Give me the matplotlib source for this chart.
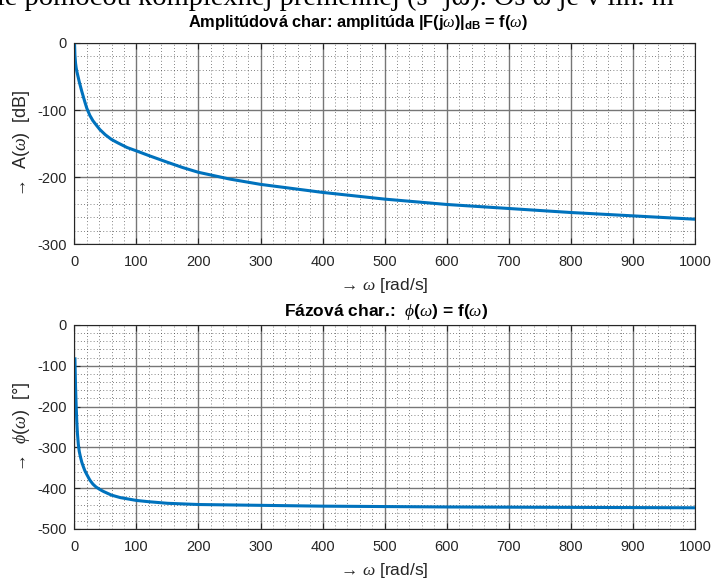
import matplotlib
matplotlib.use("Agg")
import matplotlib.pyplot as plt
from matplotlib.ticker import MultipleLocator

# ---- data ----
w_amp = [0.3, 1, 2, 3, 4, 5, 6.5, 8, 10, 12, 14.5, 17, 20, 25, 30, 35, 41, 50, 60,
         70, 85, 100, 120, 150, 175, 200, 250, 300, 350, 400, 450, 500, 600, 700,
         800, 900, 1000]
amp_db = [2, -18, -30, -37, -42, -46, -52, -58, -65, -72, -80, -88, -97, -108, -116,
          -122, -129, -137, -144, -149, -156, -161, -168, -178, -186, -193, -203,
          -211, -217, -223, -228, -233, -241, -247, -253, -258, -263]

w_ph = [1, 2, 3, 4, 5, 6.5, 8, 10, 12, 14.5, 17, 20, 25, 30, 35, 41, 47, 60, 74, 100,
        119, 150, 200, 300, 400, 500, 600, 800, 1000]
phase_deg = [-83, -150, -198, -236, -265, -293, -310, -324, -336, -347, -357, -366,
             -380, -390, -397, -403, -408, -417, -423, -430, -433, -437, -440, -442,
             -444, -445, -446, -447, -448]

x_ticks = [0, 100, 200, 300, 400, 500, 600, 700, 800, 900, 1000]
amp_ticks = [-300, -200, -100, 0]
ph_ticks = [-500, -400, -300, -200, -100, 0]

plt.rcParams['font.family'] = ['Liberation Sans', 'DejaVu Sans']
plt.rcParams['axes.unicode_minus'] = False
plt.rcParams['mathtext.fontset'] = 'custom'
plt.rcParams['mathtext.rm'] = 'Liberation Sans'
plt.rcParams['mathtext.it'] = 'Liberation Serif:italic'
plt.rcParams['mathtext.bf'] = 'Liberation Sans:bold'

LINE = '#0072BD'
TXT = '#262626'
W, H = 714, 581

fig = plt.figure(figsize=(7.14, 5.81), dpi=100)

# partially cut header text from the document
fig.text(-0.004, 1 - 5 / H, "le pomocou komplexnej premennej (s=jω). Os ω je v lin. m",
         family=['Liberation Serif', 'DejaVu Serif'], fontsize=20.5, ha='left',
         va='baseline', color='black')

L, R = 74.3, 695
ax1 = fig.add_axes([L / W, 1 - 244 / H, (R - L) / W, (244 - 43) / H])
ax2 = fig.add_axes([L / W, 1 - 529 / H, (R - L) / W, (529 - 325) / H])


def style(ax, yticks, ylim):
    ax.set_xlim(0, 1000)
    ax.set_ylim(*ylim)
    ax.set_xticks(x_ticks)
    ax.set_yticks(yticks)
    ax.xaxis.set_minor_locator(MultipleLocator(20))
    ax.yaxis.set_minor_locator(MultipleLocator(20))
    ax.grid(True, which='major', color='#767676', lw=1.0, ls='-')
    ax.grid(True, which='minor', color='#3a3a3a', lw=0.55, ls=(0, (1, 3.2)))
    ax.set_axisbelow(True)
    ax.tick_params(which='both', direction='in', colors=TXT, labelsize=10.5,
                   top=True, right=True, length=4)
    ax.tick_params(axis='x', pad=8)
    ax.tick_params(axis='y', pad=5.5)
    ax.tick_params(which='minor', length=0)
    for s in ax.spines.values():
        s.set_color(TXT)
        s.set_linewidth(0.8)


ax1.plot(w_amp, amp_db, color=LINE, lw=2.2)
style(ax1, amp_ticks, (-300, 0))
fig.text(358 / W, 1 - 27 / H,
         r"Amplitúdová char: amplitúda |F(j$\omega$)|$_{\mathbf{dB}}$ = f($\omega$)",
         fontsize=11.8, fontweight='bold', color='black', ha='center', va='baseline')
ax1.set_xlabel(r"→ $\omega$ [rad/s]", fontsize=12.5, color=TXT, labelpad=5)
ax1.set_ylabel(r"→  A($\omega$)  [dB]", fontsize=13, color=TXT, labelpad=4)

ax2.plot(w_ph, phase_deg, color=LINE, lw=2.2)
style(ax2, ph_ticks, (-500, 0))
fig.text(386 / W, 1 - 316 / H, r"Fázová char.:  $\phi$($\omega$) = f($\omega$)",
         fontsize=12.5, fontweight='bold', color='black', ha='center', va='baseline')
ax2.set_xlabel(r"→ $\omega$ [rad/s]", fontsize=12.5, color=TXT, labelpad=5)
ax2.set_ylabel(r"→  $\phi$($\omega$)  [°]", fontsize=13, color=TXT, labelpad=4)

fig.savefig("out.png", dpi=100)
